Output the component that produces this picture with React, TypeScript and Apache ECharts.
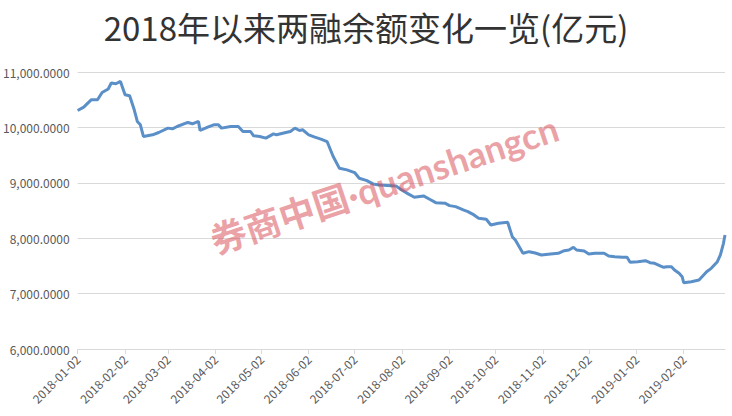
import React, { useEffect, useRef } from "react";
import * as echarts from "echarts";

const titleText = "2018年以来两融余额变化一览(亿元)";
const watermarkText = "券商中国·quanshangcn";

const dates: string[] = [
  "2018-01-02", "2018-01-06", "2018-01-11", "2018-01-15", "2018-01-18", "2018-01-22",
  "2018-01-24", "2018-01-27", "2018-01-30", "2018-02-02", "2018-02-05", "2018-02-08",
  "2018-02-10", "2018-02-12", "2018-02-14", "2018-02-20", "2018-02-24", "2018-03-02",
  "2018-03-05", "2018-03-08", "2018-03-15", "2018-03-18", "2018-03-22", "2018-03-23",
  "2018-03-28", "2018-04-01", "2018-04-04", "2018-04-06", "2018-04-12", "2018-04-17",
  "2018-04-20", "2018-04-25", "2018-04-27", "2018-05-01", "2018-05-05", "2018-05-10",
  "2018-05-12", "2018-05-18", "2018-05-21", "2018-05-24", "2018-05-27", "2018-05-29",
  "2018-06-02", "2018-06-06", "2018-06-10", "2018-06-14", "2018-06-18", "2018-06-22",
  "2018-06-27", "2018-07-02", "2018-07-05", "2018-07-10", "2018-07-14", "2018-07-18",
  "2018-07-29", "2018-08-01", "2018-08-06", "2018-08-10", "2018-08-16", "2018-08-20",
  "2018-08-24", "2018-08-30", "2018-09-02", "2018-09-06", "2018-09-11", "2018-09-14",
  "2018-09-18", "2018-09-21", "2018-09-26", "2018-09-29", "2018-10-04", "2018-10-10",
  "2018-10-13", "2018-10-15", "2018-10-20", "2018-10-24", "2018-10-28", "2018-11-01",
  "2018-11-07", "2018-11-12", "2018-11-16", "2018-11-19", "2018-11-22", "2018-11-24",
  "2018-11-29", "2018-12-02", "2018-12-06", "2018-12-12", "2018-12-15", "2018-12-19",
  "2018-12-24", "2018-12-27", "2018-12-29", "2019-01-03", "2019-01-08", "2019-01-11",
  "2019-01-14", "2019-01-18", "2019-01-20", "2019-01-22", "2019-01-25", "2019-01-27",
  "2019-01-30", "2019-02-01", "2019-02-02", "2019-02-07", "2019-02-12", "2019-02-14",
  "2019-02-17", "2019-02-20", "2019-02-24", "2019-02-26", "2019-02-28", "2019-03-01",
];

const balances: number[] = [
  10306, 10367, 10500, 10500, 10631, 10693,
  10801, 10788, 10830, 10590, 10571, 10318,
  10107, 10047, 9836, 9866, 9908, 9987,
  9975, 10016, 10089, 10065, 10107, 9944,
  10006, 10047, 10047, 9987, 10016, 10016,
  9926, 9926, 9848, 9836, 9807, 9884,
  9866, 9908, 9926, 9987, 9944, 9957,
  9866, 9825, 9789, 9745, 9474, 9264,
  9233, 9185, 9083, 9040, 8980, 8962,
  8944, 8884, 8800, 8740, 8763, 8704,
  8642, 8632, 8588, 8570, 8510, 8480,
  8420, 8360, 8342, 8239, 8270, 8288,
  8028, 7968, 7728, 7757, 7733, 7697,
  7715, 7728, 7775, 7787, 7836, 7787,
  7769, 7715, 7728, 7728, 7679, 7667,
  7655, 7655, 7565, 7576, 7594, 7558,
  7547, 7498, 7474, 7486, 7486, 7426,
  7366, 7305, 7196, 7214, 7245, 7305,
  7395, 7456, 7576, 7697, 7908, 8058,
];

const tickDates: string[] = [
  "2018-01-02", "2018-02-02", "2018-03-02", "2018-04-02", "2018-05-02", "2018-06-02",
  "2018-07-02", "2018-08-02", "2018-09-02", "2018-10-02", "2018-11-02", "2018-12-02",
  "2019-01-02", "2019-02-02",
];

const axisStart = "2018-01-02";
const axisEnd = "2019-03-01";

function buildDays(start: string, end: string): string[] {
  const out: string[] = [];
  const s = new Date(start + "T00:00:00Z").getTime();
  const e = new Date(end + "T00:00:00Z").getTime();
  for (let t = s; t <= e; t += 86400000) {
    out.push(new Date(t).toISOString().slice(0, 10));
  }
  return out;
}

export default function App() {
  const ref = useRef<HTMLDivElement>(null);
  useEffect(() => {
    if (!ref.current) return;
    const chart = echarts.init(ref.current, undefined, { renderer: "svg" });
    const days = buildDays(axisStart, axisEnd);
    const tickSet = new Set(tickDates);
    const showTick = (_i: number, v: string) => tickSet.has(v);
    chart.setOption({
      animation: false,
      backgroundColor: "#ffffff",
      title: {
        text: titleText,
        left: "center",
        top: 5,
        textStyle: {
          fontFamily: "Noto Sans CJK SC",
          fontSize: 33,
          fontWeight: "normal",
          color: "#333333",
        },
      },
      grid: { left: 75, right: 7, top: 72, bottom: 67, containLabel: false },
      xAxis: {
        type: "category",
        data: days,
        boundaryGap: false,
        axisLine: { lineStyle: { color: "#d9d9d9", width: 1 } },
        axisTick: { show: true, interval: showTick, length: 5, lineStyle: { color: "#d9d9d9" } },
        axisLabel: {
          interval: showTick,
          rotate: 45,
          margin: 8,
          color: "#595959",
          fontSize: 12,
          fontFamily: "Noto Sans CJK SC",
        },
        splitLine: { show: false },
      },
      yAxis: {
        type: "value",
        min: 6000,
        max: 11000,
        interval: 1000,
        axisLine: { show: false },
        axisTick: { show: false },
        axisLabel: {
          margin: 8,
          color: "#595959",
          fontSize: 12,
          fontFamily: "Noto Sans CJK SC",
          formatter: (v: number) =>
            v.toLocaleString("en-US", { minimumFractionDigits: 4, maximumFractionDigits: 4 }),
        },
        splitLine: { lineStyle: { color: "#d9d9d9", width: 1 } },
      },
      series: [
        {
          type: "line",
          data: dates.map((d, i) => [d, balances[i]]),
          showSymbol: false,
          symbol: "none",
          lineStyle: { color: "#5a8fc8", width: 3 },
          z: 2,
        },
      ],
      graphic: [
        {
          type: "text",
          x: 384,
          y: 184,
          rotation: 0.32,
          z: 100,
          style: {
            text: watermarkText,
            fontFamily: "Lato, 'Noto Sans CJK SC'",
            fontSize: 36,
            fontWeight: "bold",
            fill: "rgba(214, 70, 80, 0.5)",
            align: "center",
            verticalAlign: "middle",
          },
        },
      ],
    });
    return () => chart.dispose();
  }, []);
  return (
    <div
      ref={ref}
      style={{ position: "fixed", left: 0, top: 0, width: 732, height: 416 }}
    />
  );
}
